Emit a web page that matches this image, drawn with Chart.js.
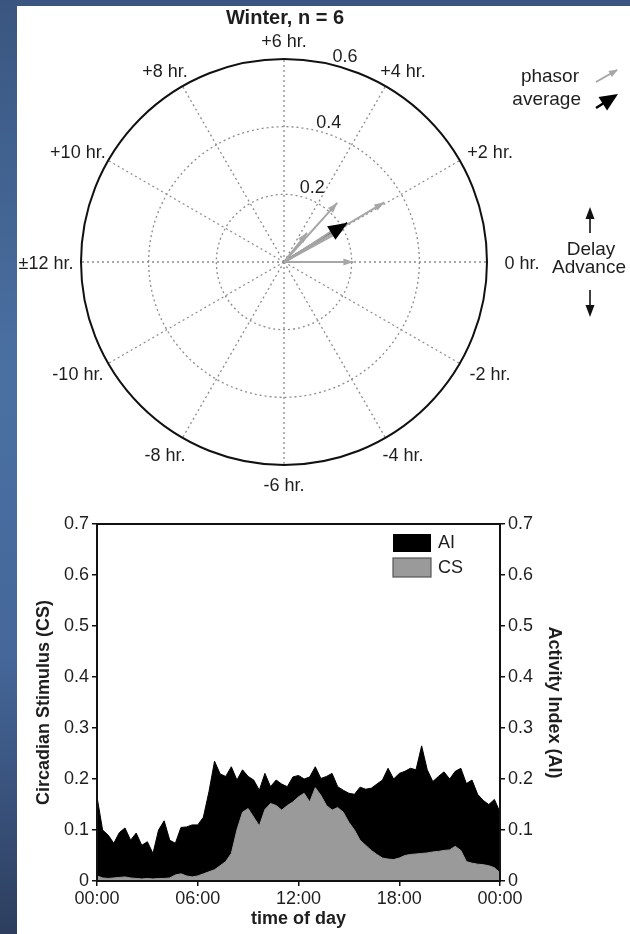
<!DOCTYPE html>
<html>
<head>
<meta charset="utf-8">
<script src="https://cdn.jsdelivr.net/npm/chart.js@4.4.1/dist/chart.umd.min.js"></script>
<style>
  html, body { margin: 0; padding: 0; width: 630px; height: 934px; overflow: hidden; }
  body {
    position: relative;
    background: linear-gradient(to bottom, #3a5680 0%, #4a70a2 40%, #45679a 70%, #2d3e5e 100%);
  }
  #panel { position: absolute; left: 17px; top: 6px; right: 0; bottom: 0; background: #ffffff; }
  #polar { position: absolute; left: 0; top: 0; }
  #area  { position: absolute; left: 0; top: 490px; }
</style>
</head>
<body>
<div id="panel"></div>
<canvas id="area" width="630" height="444"></canvas>
<canvas id="polar" width="630" height="505"></canvas>
<script>
// ---------- phasor data (hours of phase shift, magnitude) ----------
const phasorHours = [0.0, 2.05, 3.2, 3.45, 2.2, 1.9];
const phasorMags  = [0.205, 0.345, 0.235, 0.11, 0.21, 0.2];
const averageHour = 2.1;
const averageMag  = 0.22;

const ringValues  = [0.2, 0.4, 0.6];
const ringLabels  = ['0.2', '0.4', '0.6'];
const spokeHours  = [0, 2, 4, 6, 8, 10, 12, -10, -8, -6, -4, -2];
const spokeLabels = ['0 hr.', '+2 hr.', '+4 hr.', '+6 hr.', '+8 hr.', '+10 hr.',
                     '\u00b112 hr.', '-10 hr.', '-8 hr.', '-6 hr.', '-4 hr.', '-2 hr.'];

// ---------- daily profile, 20-minute bins from 00:00 to 24:00 ----------
const activityIndex = [
  0.165, 0.1, 0.09, 0.074, 0.095, 0.104,
  0.08, 0.094, 0.07, 0.077, 0.054, 0.1,
  0.118, 0.08, 0.074, 0.105, 0.106, 0.11,
  0.11, 0.125, 0.175, 0.235, 0.21, 0.205,
  0.224, 0.198, 0.218, 0.205, 0.198, 0.178,
  0.211, 0.185, 0.198, 0.19, 0.185, 0.204,
  0.207, 0.2, 0.204, 0.224, 0.201, 0.205,
  0.211, 0.185, 0.178, 0.172, 0.17, 0.184,
  0.18, 0.182, 0.19, 0.198, 0.221, 0.2,
  0.211, 0.215, 0.221, 0.218, 0.265, 0.218,
  0.195, 0.205, 0.214, 0.2, 0.215, 0.221,
  0.191, 0.198, 0.17, 0.158, 0.15, 0.16,
  0.135
];
const circadianStimulus = [
  0.01, 0.006, 0.005, 0.006, 0.007, 0.008,
  0.006, 0.005, 0.004, 0.005, 0.004, 0.005,
  0.005, 0.006, 0.012, 0.014, 0.01, 0.008,
  0.01, 0.014, 0.018, 0.022, 0.03, 0.038,
  0.054, 0.1, 0.135, 0.142, 0.125, 0.108,
  0.14, 0.152, 0.148, 0.139, 0.148, 0.155,
  0.165, 0.172, 0.155, 0.183, 0.168, 0.148,
  0.139, 0.144, 0.135, 0.115, 0.1, 0.08,
  0.07, 0.06, 0.052, 0.045, 0.043, 0.042,
  0.045, 0.05, 0.052, 0.053, 0.054, 0.055,
  0.057, 0.058, 0.06, 0.061, 0.068, 0.06,
  0.038, 0.035, 0.033, 0.032, 0.03, 0.026,
  0.016
];
const binHours = 1 / 3;
const timeTickLabels = ['00:00', '06:00', '12:00', '18:00', '00:00'];
const valueTickLabels = ['0', '0.1', '0.2', '0.3', '0.4', '0.5', '0.6', '0.7'];

const FONT = '"Liberation Sans", Arial, Helvetica, sans-serif';
const TEXT = '#1e1e1e';

// phase in hours -> cartesian point (0 hr. to the right, +6 hr. at the top)
function hourToXY(h, m) {
  const a = h * Math.PI / 12;
  return { x: m * Math.cos(a), y: m * Math.sin(a) };
}

function arrowHead(ctx, x0, y0, x1, y1, len, half, color) {
  const a = Math.atan2(y1 - y0, x1 - x0);
  ctx.save();
  ctx.fillStyle = color;
  ctx.beginPath();
  ctx.moveTo(x1, y1);
  ctx.lineTo(x1 - len * Math.cos(a) + half * Math.sin(a), y1 - len * Math.sin(a) - half * Math.cos(a));
  ctx.lineTo(x1 - len * Math.cos(a) - half * Math.sin(a), y1 - len * Math.sin(a) + half * Math.cos(a));
  ctx.closePath();
  ctx.fill();
  ctx.restore();
}

// ---------- polar phasor plot ----------
const R_MAX = 0.6;
const arrowStyle = [];
const polarDatasets = phasorHours.map((h, i) => {
  arrowStyle.push({ len: 10, half: 3.5, color: '#a6a6a6' });
  return {
    label: 'phasor',
    data: [{ x: 0, y: 0 }, hourToXY(h, phasorMags[i])],
    borderColor: '#a6a6a6', borderWidth: 2, pointRadius: 0, showLine: true
  };
});
arrowStyle.push({ len: 19, half: 8, color: '#000000' });
polarDatasets.push({
  label: 'average',
  data: [{ x: 0, y: 0 }, hourToXY(averageHour, averageMag)],
  borderColor: '#000000', borderWidth: 2.6, pointRadius: 0, showLine: true
});

const polarFrame = {
  id: 'polarFrame',
  beforeDatasetsDraw(chart) {
    const { ctx, scales: { x, y } } = chart;
    const cx = x.getPixelForValue(0), cy = y.getPixelForValue(0);
    const rad = v => x.getPixelForValue(v) - cx;
    ctx.save();
    ctx.strokeStyle = '#8c8c8c';
    ctx.lineWidth = 1.3;
    ctx.setLineDash([2, 3]);
    ringValues.filter(v => v < R_MAX).forEach(v => {
      ctx.beginPath(); ctx.arc(cx, cy, rad(v), 0, 2 * Math.PI); ctx.stroke();
    });
    spokeHours.forEach(h => {
      const p = hourToXY(h, R_MAX);
      ctx.beginPath();
      ctx.moveTo(cx, cy);
      ctx.lineTo(x.getPixelForValue(p.x), y.getPixelForValue(p.y));
      ctx.stroke();
    });
    ctx.setLineDash([]);
    ctx.strokeStyle = '#111';
    ctx.lineWidth = 2;
    ctx.beginPath(); ctx.arc(cx, cy, rad(R_MAX), 0, 2 * Math.PI); ctx.stroke();

    // labels
    ctx.fillStyle = TEXT;
    ctx.textAlign = 'center';
    ctx.textBaseline = 'middle';
    ctx.font = '18px ' + FONT;
    const R = rad(R_MAX);
    spokeHours.forEach((h, i) => {
      const a = h * Math.PI / 12;
      ctx.fillText(spokeLabels[i], cx + (R + 35) * Math.cos(a), cy - (R + 19) * Math.sin(a) + 2);
    });
    const ra = 76 * Math.PI / 180;
    ringValues.forEach((v, i) => {
      ctx.fillText(ringLabels[i], cx + rad(v) * Math.cos(ra) + 12, cy - rad(v) * Math.sin(ra) - 8);
    });
    ctx.font = 'bold 20px ' + FONT;
    ctx.fillText('Winter, n = 6', cx + 1, 18);
    ctx.restore();
  },
  afterDatasetsDraw(chart) {
    const { ctx } = chart;
    chart.data.datasets.forEach((ds, i) => {
      const pts = chart.getDatasetMeta(i).data;
      const s = arrowStyle[i];
      arrowHead(ctx, pts[0].x, pts[0].y, pts[1].x, pts[1].y, s.len, s.half, s.color);
    });
  },
  afterDraw(chart) {
    const { ctx } = chart;
    ctx.save();
    ctx.fillStyle = TEXT;
    ctx.font = '19px ' + FONT;
    ctx.textBaseline = 'middle';
    ctx.textAlign = 'right';
    ctx.fillText('phasor', 579, 77);
    ctx.fillText('average', 581, 100);
    // legend arrows
    ctx.strokeStyle = '#a6a6a6'; ctx.lineWidth = 2;
    ctx.beginPath(); ctx.moveTo(596, 82); ctx.lineTo(617, 70); ctx.stroke();
    arrowHead(ctx, 596, 82, 618, 69.5, 9, 3.5, '#a6a6a6');
    ctx.strokeStyle = '#000'; ctx.lineWidth = 2.6;
    ctx.beginPath(); ctx.moveTo(596, 108); ctx.lineTo(615, 96); ctx.stroke();
    arrowHead(ctx, 596, 108, 618, 94, 18, 8, '#000');
    // delay / advance
    ctx.textAlign = 'center';
    ctx.fillText('Delay', 591, 250);
    ctx.fillText('Advance', 589, 268);
    ctx.strokeStyle = '#111'; ctx.lineWidth = 1.6;
    ctx.beginPath(); ctx.moveTo(590, 233); ctx.lineTo(590, 214); ctx.stroke();
    arrowHead(ctx, 590, 233, 590, 207, 12, 4.5, '#111');
    ctx.beginPath(); ctx.moveTo(590, 290); ctx.lineTo(590, 310); ctx.stroke();
    arrowHead(ctx, 590, 290, 590, 317, 12, 4.5, '#111');
    ctx.restore();
  }
};

new Chart(document.getElementById('polar'), {
  type: 'scatter',
  data: { datasets: polarDatasets },
  options: {
    responsive: false,
    animation: false,
    events: [],
    layout: { autoPadding: false, padding: { left: 81, right: 143, top: 59, bottom: 40 } },
    scales: {
      x: { type: 'linear', min: -R_MAX, max: R_MAX, display: false },
      y: { type: 'linear', min: -R_MAX, max: R_MAX, display: false }
    },
    plugins: { legend: { display: false }, tooltip: { enabled: false } }
  },
  plugins: [polarFrame]
});

// ---------- daily CS / AI profile ----------
const aiPoints = activityIndex.map((v, i) => ({ x: i * binHours, y: v }));
const csPoints = circadianStimulus.map((v, i) => ({ x: i * binHours, y: v }));

const frameAndLegend = {
  id: 'frameAndLegend',
  afterDatasetsDraw(chart) {
    const { ctx, chartArea: a } = chart;
    ctx.save();
    ctx.strokeStyle = '#111';
    ctx.lineWidth = 2;
    ctx.strokeRect(a.left, a.top, a.right - a.left, a.bottom - a.top);
    const bx = a.right - 107, by = a.top + 10;
    ctx.fillStyle = '#000';
    ctx.fillRect(bx, by, 38, 18);
    ctx.fillStyle = '#9a9a9a';
    ctx.fillRect(bx, by + 24, 38, 19);
    ctx.strokeStyle = '#555'; ctx.lineWidth = 1.2;
    ctx.strokeRect(bx, by + 24, 38, 19);
    ctx.fillStyle = TEXT;
    ctx.font = '18px ' + FONT;
    ctx.textAlign = 'left';
    ctx.textBaseline = 'middle';
    ctx.fillText('AI', bx + 45, by + 9);
    ctx.fillText('CS', bx + 45, by + 34);
    ctx.restore();
  }
};

const tickFont = { family: FONT, size: 18 };
const titleFont = { family: FONT, size: 18, weight: 'bold' };
const axisGrid = { display: true, drawOnChartArea: false, drawTicks: true, tickLength: 5, color: '#111', lineWidth: 1.5 };

new Chart(document.getElementById('area'), {
  type: 'line',
  data: {
    datasets: [
      { label: 'CS', data: csPoints, yAxisID: 'y', order: 1, fill: 'origin',
        backgroundColor: '#9a9a9a', borderColor: '#9a9a9a', borderWidth: 1, pointRadius: 0, tension: 0 },
      { label: 'AI', data: aiPoints, yAxisID: 'y1', order: 2, fill: 'origin',
        backgroundColor: '#000000', borderColor: '#000000', borderWidth: 1, pointRadius: 0, tension: 0 }
    ]
  },
  options: {
    responsive: false,
    animation: false,
    events: [],
    layout: { autoPadding: false, padding: { top: 34, left: 0, right: 0, bottom: 0 } },
    scales: {
      x: {
        type: 'linear', min: 0, max: 24,
        ticks: { stepSize: 6, color: TEXT, font: tickFont, padding: 2, maxRotation: 0,
                 callback: (v, i) => timeTickLabels[i] },
        grid: axisGrid,
        border: { display: true, color: '#111', width: 2 },
        title: { display: true, text: 'time of day', color: TEXT, font: titleFont, padding: { top: 0, bottom: 4 } },
        afterFit(s) { s.height = 53; }
      },
      y: {
        position: 'left', min: 0, max: 0.7,
        ticks: { stepSize: 0.1, color: TEXT, font: tickFont, padding: 3,
                 callback: (v, i) => valueTickLabels[i] },
        grid: axisGrid,
        border: { display: true, color: '#111', width: 2 },
        title: { display: true, text: 'Circadian Stimulus (CS)', color: TEXT, font: titleFont, padding: { top: 33, bottom: 0 } },
        afterFit(s) { s.width = 97; }
      },
      y1: {
        position: 'right', min: 0, max: 0.7,
        ticks: { stepSize: 0.1, color: TEXT, font: tickFont, padding: 3,
                 callback: (v, i) => valueTickLabels[i] },
        grid: axisGrid,
        border: { display: true, color: '#111', width: 2 },
        title: { display: true, text: 'Activity Index (AI)', color: TEXT, font: titleFont, padding: { top: 65, bottom: 0 } },
        afterFit(s) { s.width = 130; }
      }
    },
    plugins: { legend: { display: false }, tooltip: { enabled: false } }
  },
  plugins: [frameAndLegend]
});
</script>
</body>
</html>
